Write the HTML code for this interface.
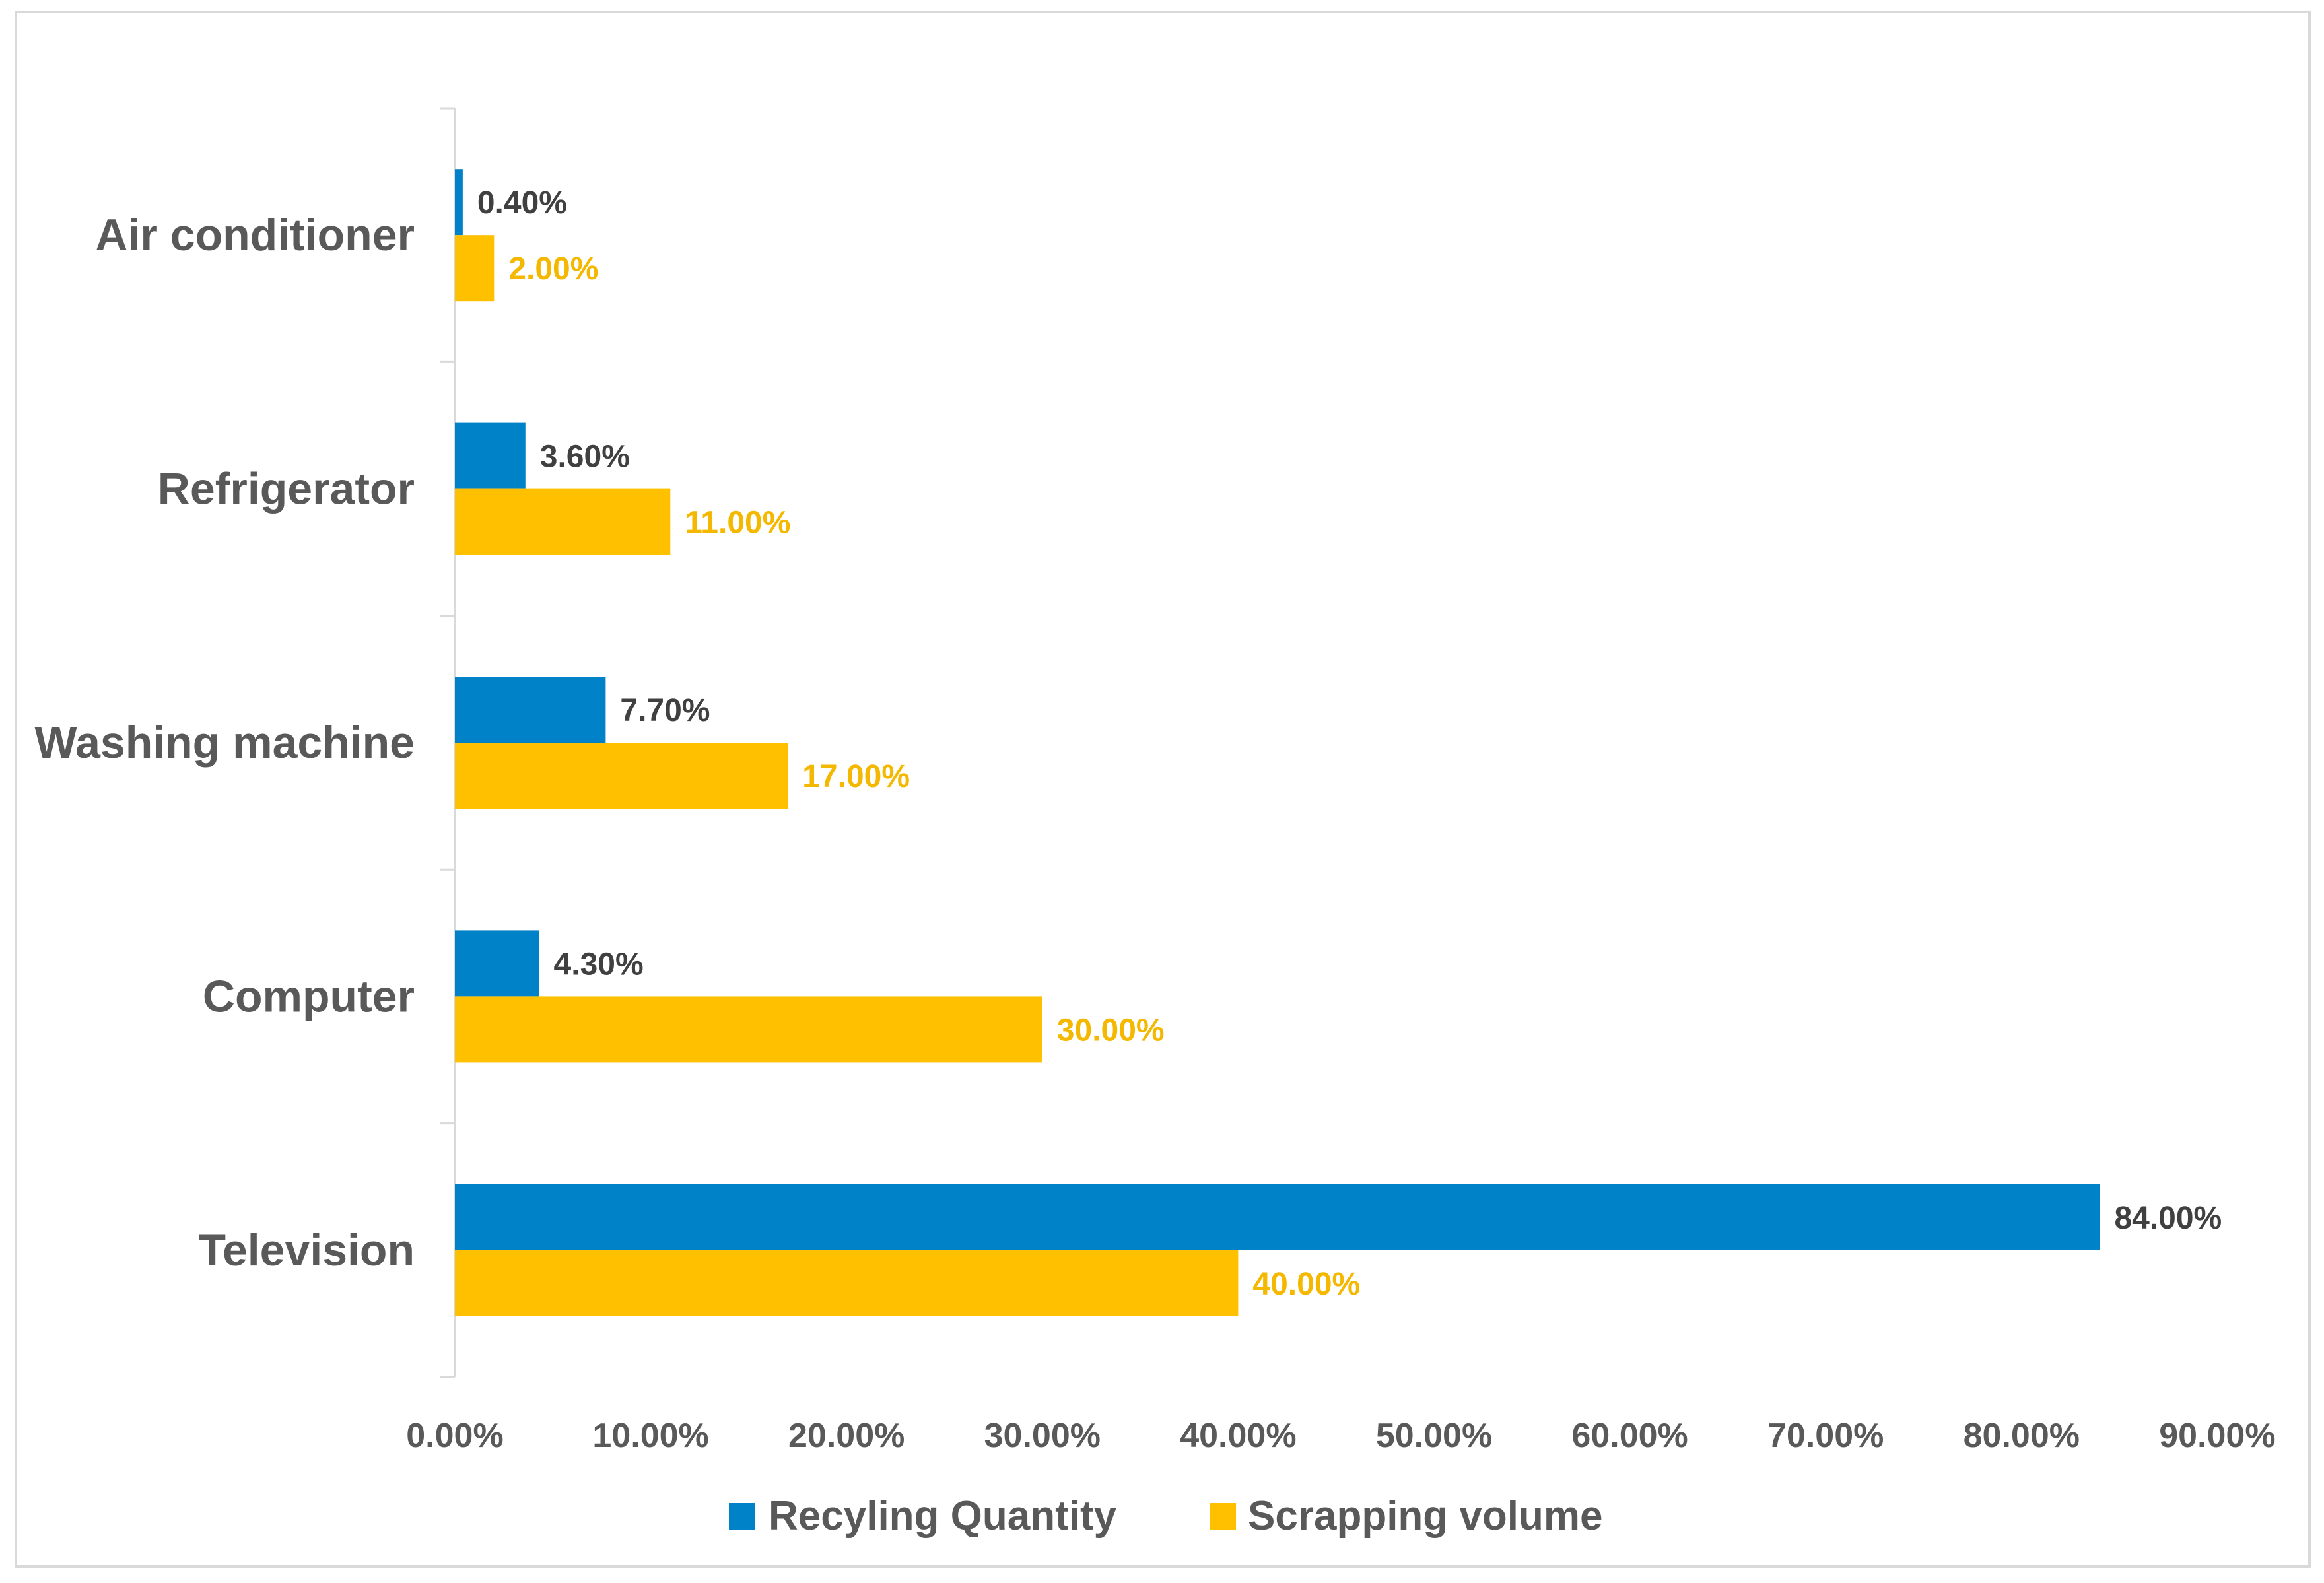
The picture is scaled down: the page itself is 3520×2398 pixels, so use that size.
<!DOCTYPE html>
<html><head><meta charset="utf-8"><style>
html,body{margin:0;padding:0;background:#fff;}
svg text{font-family:"Liberation Sans",sans-serif;font-weight:bold;}
</style></head><body>
<svg id="chart" width="3520" height="2393" viewBox="0 0 3520 2393" xmlns="http://www.w3.org/2000/svg">
<rect x="24" y="18" width="3474" height="2355" fill="#fff" stroke="#d9d9d9" stroke-width="4"/>
<g id="plot"></g>
<g>
<rect x="1104" y="2277" width="40" height="40" fill="#0082c8"/>
<text x="1164" y="2317" font-size="62" fill="#595959">Recyling Quantity</text>
<rect x="1832" y="2277" width="40" height="40" fill="#ffc000"/>
<text x="1890" y="2317" font-size="62" fill="#595959">Scrapping volume</text>
</g>
</svg>
<script>
const categories = ["Air conditioner","Refrigerator","Washing machine","Computer","Television"];
const recycling = [0.4, 3.6, 7.7, 4.3, 84];
const scrapping = [2, 11, 17, 30, 40];
const ticks = [0,10,20,30,40,50,60,70,80,90];

const NS = "http://www.w3.org/2000/svg";
const g = document.getElementById("plot");
const X0 = 689, PX = 29.66, TOP = 164, BOT = 2086;
const band = (BOT - TOP) / categories.length;
const barH = 100;
const x = v => X0 + v * PX;
const yc = i => TOP + band * (i + 0.5);
function mk(tag, attrs, txt){const e=document.createElementNS(NS,tag);for(const k in attrs)e.setAttribute(k,attrs[k]);if(txt!==undefined)e.textContent=txt;g.appendChild(e);return e;}

let ax = mk("line",{x1:X0,y1:TOP,x2:X0,y2:BOT,stroke:"#d9d9d9","stroke-width":3});


for(let i=0;i<=categories.length;i++){
  const t = mk("line",{x1:X0-22,y1:TOP+band*i,x2:X0,y2:TOP+band*i,stroke:"#d9d9d9","stroke-width":3});
  
  
}
categories.forEach((c,i)=>{
  const cy = yc(i);
  const lab = mk("text",{x:628,y:cy+23,"font-size":68,fill:"#595959","text-anchor":"end"},c);
  
  
  const b1 = mk("rect",{x:X0,y:cy-barH,width:x(recycling[i])-X0,height:barH,fill:"#0082c8"});
  
  
  const b2 = mk("rect",{x:X0,y:cy,width:x(scrapping[i])-X0,height:barH,fill:"#ffc000"});
  
  
  const v1 = mk("text",{x:x(recycling[i])+22,y:cy-50+17,"font-size":48,fill:"#404040"},recycling[i].toFixed(2)+"%");
  
  
  const v2 = mk("text",{x:x(scrapping[i])+22,y:cy+50+17,"font-size":48,fill:"#f5b800"},scrapping[i].toFixed(2)+"%");
  
  
});
ticks.forEach(t=>{
  const tl = mk("text",{x:x(t),y:2192,"font-size":52,fill:"#595959","text-anchor":"middle"},t.toFixed(2)+"%");
  
  
});
</script>
</body></html>
